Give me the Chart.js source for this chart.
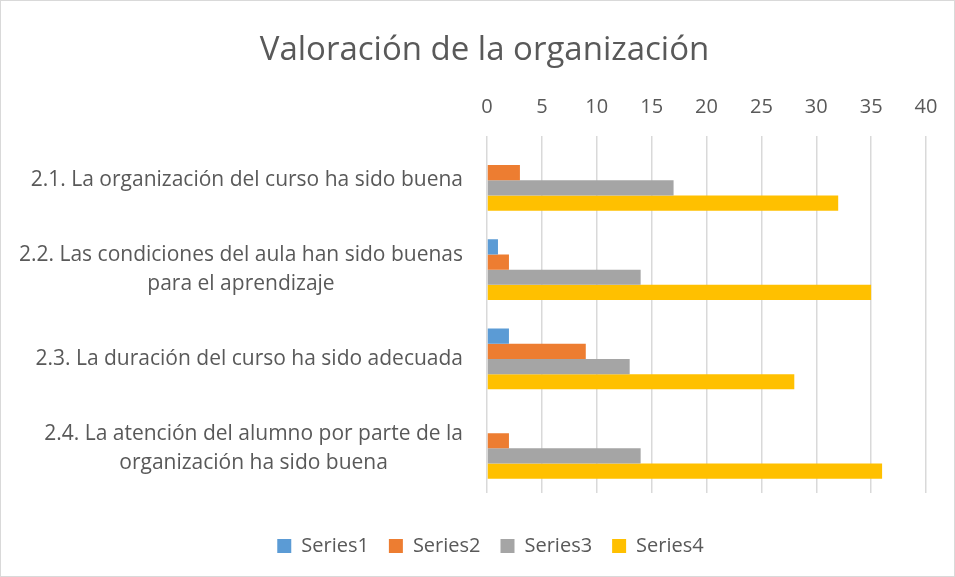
<!DOCTYPE html>
<html>
<head>
<meta charset="utf-8">
<script src="https://cdn.jsdelivr.net/npm/chart.js@4"></script>
<style>
  html, body { margin: 0; padding: 0; background: #fff; }
  #wrap { width: 955px; height: 577px; box-sizing: border-box; border: 1px solid #d9d9d9; }
</style>
</head>
<body>
<div id="wrap"><canvas id="orgChart"></canvas></div>
<script>
// data
var categories = [
  ["2.1. La organización del curso ha sido buena"],
  ["2.2. Las condiciones del aula han sido buenas", "para el aprendizaje"],
  ["2.3. La duración del curso ha sido adecuada"],
  ["2.4. La atención del alumno por parte de la", "organización ha sido buena"]
];
var series1 = [0, 1, 2, 0];
var series2 = [3, 2, 9, 2];
var series3 = [17, 14, 13, 14];
var series4 = [32, 35, 28, 36];
var seriesNames = ["Series1", "Series2", "Series3", "Series4"];
var xTicks = [0, 5, 10, 15, 20, 25, 30, 35, 40];

var textColor = "#595959";
var fontFamily = "'Open Sans', sans-serif";
var labelSize = 21;

// draws the category labels: block right-aligned, lines centered inside it (Excel style)
var catLabels = {
  id: "catLabels",
  afterLayout: function (chart) {
    // title and legend are centred on the whole chart, not on the padded box
    if (chart.titleBlock) { chart.titleBlock.left += 21; chart.titleBlock.right += 21; }
    if (chart.legend) {
      chart.legend.left += 27; chart.legend.right += 27;
      if (chart.legend.legendHitBoxes) {
        chart.legend.legendHitBoxes.forEach(function (h) { h.left += 27; });
      }
    }
  },
  afterDraw: function (chart) {
    var ctx = chart.ctx;
    var yScale = chart.scales.y;
    var right = yScale.right - 24;
    var lineH = 29;
    ctx.save();
    ctx.font = labelSize + "px " + fontFamily;
    ctx.fillStyle = textColor;
    ctx.textAlign = "center";
    ctx.textBaseline = "middle";
    categories.forEach(function (lines, i) {
      var cy = yScale.getPixelForTick(i);
      var maxW = 0;
      lines.forEach(function (l) { maxW = Math.max(maxW, ctx.measureText(l).width); });
      var cx = right - maxW / 2;
      var y0 = cy - (lines.length - 1) * lineH / 2;
      lines.forEach(function (l, j) { ctx.fillText(l, cx, y0 + j * lineH); });
    });
    ctx.restore();
  }
};

var ctx = document.getElementById("orgChart").getContext("2d");
new Chart(ctx, {
  type: "bar",
  data: {
    labels: categories,
    datasets: [
      { label: seriesNames[0], data: series1, backgroundColor: "#5b9bd5" },
      { label: seriesNames[1], data: series2, backgroundColor: "#ed7d31" },
      { label: seriesNames[2], data: series3, backgroundColor: "#a5a5a5" },
      { label: seriesNames[3], data: series4, backgroundColor: "#ffc000" }
    ]
  },
  options: {
    indexAxis: "y",
    responsive: true,
    maintainAspectRatio: false,
    animation: false,
    datasets: {
      bar: { categoryPercentage: 0.68, barPercentage: 1.0, borderWidth: 0 }
    },
    layout: { padding: { left: 0, right: 28, top: 0, bottom: 10 } },
    scales: {
      x: {
        position: "top",
        min: 0,
        max: 40,
        afterBuildTicks: function (axis) {
          axis.ticks = xTicks.map(function (v) { return { value: v }; });
        },
        grid: { color: "#d9d9d9", lineWidth: 1.5, drawTicks: false },
        border: { display: false },
        ticks: { color: textColor, font: { family: fontFamily, size: 20 }, padding: 16 }
      },
      y: {
        grid: { display: false },
        border: { display: false },
        afterFit: function (scale) { scale.width = 486; },
        ticks: { display: false }
      }
    },
    plugins: {
      title: {
        display: true,
        text: "Valoración de la organización",
        color: textColor,
        font: { family: fontFamily, size: 33, weight: "normal" },
        padding: { top: 30, bottom: 9 }
      },
      legend: {
        position: "bottom",
        // empty title only adds space between the plot and the legend items
        title: { display: true, text: "", font: { size: 10 }, padding: { top: 11, bottom: 0 } },
        labels: {
          color: textColor,
          font: { family: fontFamily, size: 20 },
          boxWidth: 14,
          boxHeight: 14,
          padding: 20
        }
      },
      tooltip: { enabled: false }
    }
  },
  plugins: [catLabels]
});
</script>
</body>
</html>
